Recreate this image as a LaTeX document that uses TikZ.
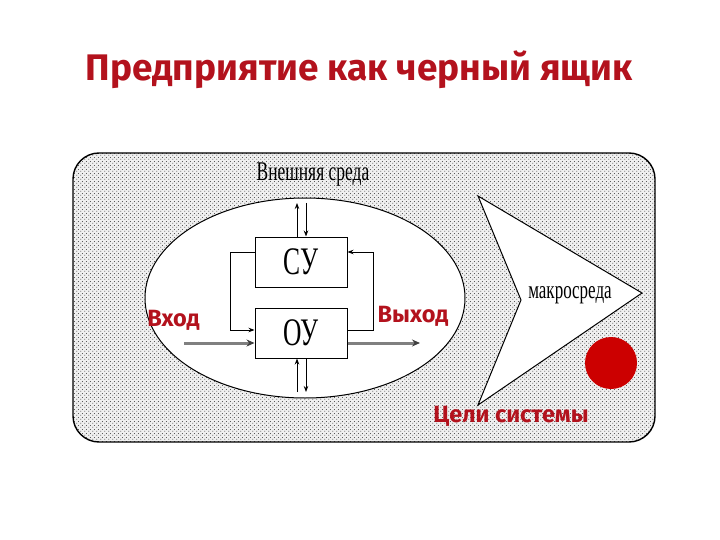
\documentclass[tikz,border=0pt]{standalone}
\usepackage{fontspec}
\setmainfont{Liberation Serif}
\newfontfamily\redfont{Fira Sans}
\usetikzlibrary{shapes.geometric,patterns.meta,arrows.meta}
\definecolor{darkred}{HTML}{B3121D}
\definecolor{dotred}{HTML}{CC0000}
\pgfdeclarepattern{
  name=envdots,
  type=uncolored,
  bottom left={\pgfpointorigin},
  top right={\pgfpoint{4pt}{4pt}},
  tile size={\pgfpoint{4pt}{4pt}},
  code={
    \pgfpathcircle{\pgfpoint{1pt}{1pt}}{0.6pt}
    \pgfpathcircle{\pgfpoint{3pt}{3pt}}{0.6pt}
    \pgfusepath{fill}
  }
}
\begin{document}
\begin{tikzpicture}[x=1pt,y=-1pt,
  thinarrow/.style={draw=black, line width=0.9pt, -{Stealth[length=6pt,width=4.5pt]}},
  grayarrow/.style={draw=gray, line width=3pt, -{Stealth[length=8pt,width=7pt,color=black!75]}},
  blockbox/.style={draw, line width=1pt, fill=white, minimum width=92pt, minimum height=50pt, inner sep=0pt, font=\fontsize{30}{30}\selectfont},
  redlabel/.style={text=darkred, font=\redfont\bfseries\fontsize{23.5}{23.5}\selectfont, inner sep=0pt},
  serifLabel/.style={inner sep=0pt}]
\useasboundingbox (0,0) rectangle (720,540);
% title
\node[text=darkred, font=\redfont\bfseries\fontsize{37}{37}\selectfont, inner sep=0pt] (title) at (359,70) {Предприятие как черный ящик};
% environment frame
\node[draw=black, line width=1.4pt, rounded corners=26pt, minimum width=582pt, minimum height=289pt, preaction={fill=gray!12}, pattern=envdots, pattern color=black!85, inner sep=0pt] (env) at (364,297.5) {};
% system ellipse
\node[ellipse, draw, line width=1pt, fill=white, minimum width=320pt, minimum height=200pt, inner sep=0pt] (sys) at (305,298) {};
% chevron
\coordinate (ca) at (478,196);
\coordinate (ctip) at (642,293);
\coordinate (cb) at (478,405);
\coordinate (cn) at (521,300);
\draw[line width=1pt, fill=white] (ca) -- (ctip) -- (cb) -- (cn) -- cycle;
% texts
\node[serifLabel, font=\fontsize{18}{18}\selectfont] (ext) at (313,175) {\scalebox{0.97}[1.5]{Внешняя среда}};
\node[serifLabel, font=\fontsize{17}{17}\selectfont] (macro) at (570,295) {\scalebox{1}[1.5]{макросреда}};
% blocks
\node[blockbox] (su) at (301,262) {\scalebox{0.85}[1.3]{СУ}};
\node[blockbox] (ou) at (301,333) {\scalebox{0.85}[1.3]{ОУ}};
% vertical double arrows
\coordinate (t1) at (297,203);
\coordinate (t2) at (306,203);
\coordinate (b1) at (297,392);
\coordinate (b2) at (306,392);
\draw[thinarrow] (su.north -| t1) -- (t1);
\draw[thinarrow] (t2) -- (su.north -| t2);
\draw[thinarrow] (b1) -- (ou.south -| b1);
\draw[thinarrow] (ou.south -| b2) -- (b2);
% feedback loops
\coordinate (lt) at (230,252);
\coordinate (lb) at (230,330);
\coordinate (rt) at (373,252);
\coordinate (rb) at (373,330);
\draw[thinarrow] (su.west |- lt) -- (lt) -- (lb) -- (ou.west |- lb);
\draw[thinarrow] (ou.east |- rb) -- (rb) -- (rt) -- (su.east |- rt);
% input / output
\coordinate (inL) at (184,343);
\coordinate (outR) at (420,343);
\draw[grayarrow] (inL) -- (ou.west |- inL);
\draw[grayarrow] (ou.east |- outR) -- (outR);
\node[redlabel] (vhod) at (173.5,320) {Вход};
\node[redlabel] (vyhod) at (413,316) {Выход};
% goals
\node[circle, fill=dotred, minimum size=52pt, inner sep=0pt] (goal) at (611,363) {};
\node[redlabel] (goals) at (511,416) {Цели системы};
\end{tikzpicture}
\end{document}
